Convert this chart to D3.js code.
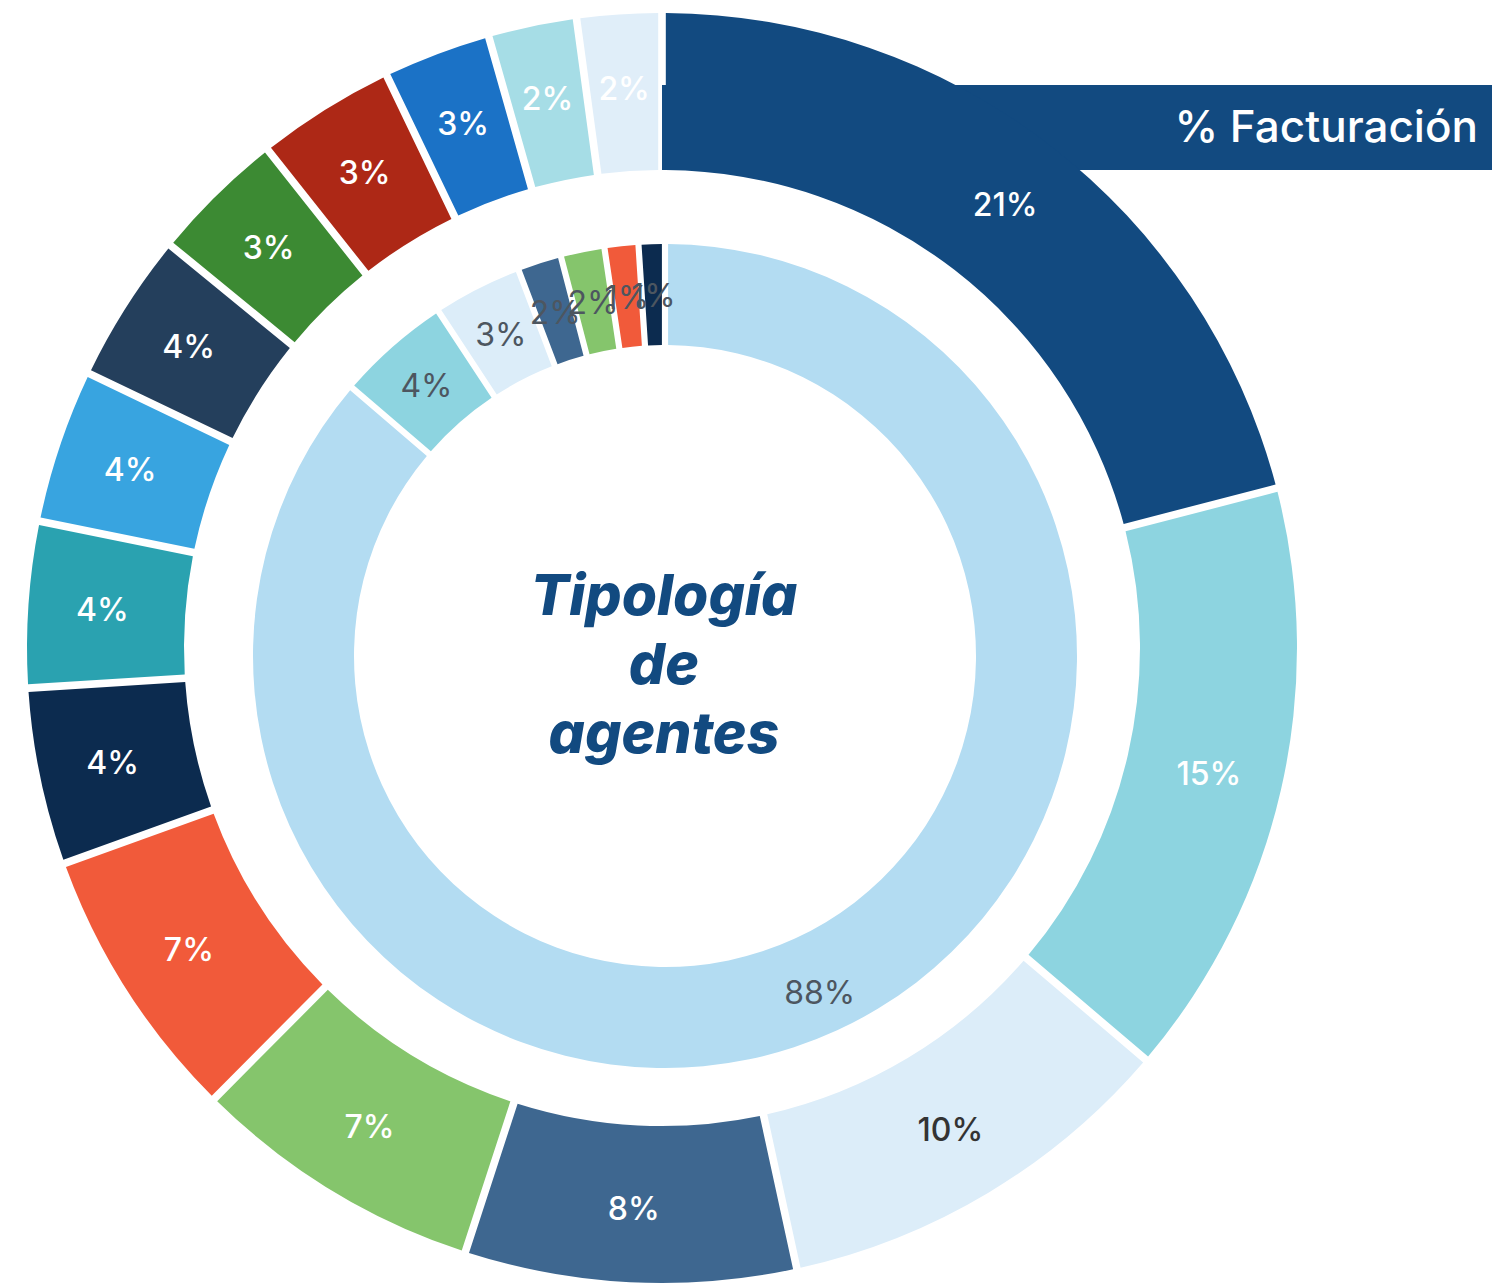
<!DOCTYPE html>
<html>
<head>
<meta charset="utf-8">
<script src="https://cdn.jsdelivr.net/npm/d3@7"></script>
<style>
  body { margin: 0; background: #fff; }
  svg { display: block; font-family: Inter, "Noto Sans", sans-serif; }
</style>
</head>
<body>
<svg width="1492" height="1284"></svg>
<script>
// outer ring: % facturación, clockwise from 12 o'clock
var outerValues = [21.2, 15.4, 10.4, 8.4, 7.4, 7.0, 4.4, 4.1, 3.8, 3.7, 3.3, 3.4, 2.6, 2.1, 2.0];
var outerColors = ['#124a80', '#8dd4e0', '#dcedf9', '#3e6790', '#85c56c', '#f15a3a', '#0c2b4f',
                   '#2aa2b0', '#38a4e0', '#243f5c', '#3c8a33', '#ad2816', '#1b72c6', '#a6dde6', '#e0eef9'];
var outerDarkText = [2]; // only the 10% slice uses dark text

// inner ring: tipología de agentes
var innerValues = [87.5, 4.3, 3.3, 1.5, 1.5, 1.1, 0.8];
var innerColors = ['#b3dcf2', '#8dd4e0', '#dcedf9', '#3e6790', '#85c56c', '#f15a3a', '#0c2b4f'];

var centerTitle = ['Tipología', 'de', 'agentes'];
var boxTitle = '% Facturación';

var cx = 662, cy = 648;      // outer ring centre
var icx = 665, icy = 656;    // inner ring sits a little lower
var svg = d3.select('svg');

// title band behind the big slice
svg.append('rect')
  .attr('x', cx).attr('y', 85)
  .attr('width', 1492 - cx).attr('height', 85)
  .attr('fill', '#124a80');

svg.append('text')
  .attr('x', 1478).attr('y', 142)
  .attr('text-anchor', 'end')
  .attr('fill', '#fff')
  .style('font-size', '44px')
  .style('font-weight', 500)
  .text(boxTitle);

function pct(v) { return Math.round(v) + '%'; }

// outer ring
var g = svg.append('g').attr('transform', 'translate(' + cx + ',' + cy + ')');
var outerPie = d3.pie().sort(null).value(function(d) { return d; }).padAngle(0.012);
var outerArc = d3.arc().innerRadius(478).outerRadius(635).padRadius(635);
var outerLabelArc = d3.arc().innerRadius(482).outerRadius(640);

var oArcs = outerPie(outerValues);
g.selectAll('path.outer')
  .data(oArcs)
  .enter()
  .append('path')
  .attr('class', 'outer')
  .attr('d', outerArc)
  .attr('fill', function(d, i) { return outerColors[i]; });

g.selectAll('text.outer')
  .data(oArcs)
  .enter()
  .append('text')
  .attr('class', 'outer')
  .attr('transform', function(d) { return 'translate(' + outerLabelArc.centroid(d) + ')'; })
  .attr('text-anchor', 'middle')
  .attr('dominant-baseline', 'central')
  .attr('fill', function(d, i) { return outerDarkText.indexOf(i) >= 0 ? '#333' : '#fff'; })
  .style('font-size', '32px')
  .style('font-weight', 500)
  .text(function(d) { return pct(d.data); });

// inner ring
var gi = svg.append('g').attr('transform', 'translate(' + icx + ',' + icy + ')');
var innerPie = d3.pie().sort(null).value(function(d) { return d; }).padAngle(0.015);
var innerArc = d3.arc().innerRadius(311).outerRadius(412).padRadius(412);
var innerLabelArc = d3.arc().innerRadius(311).outerRadius(411);

var iArcs = innerPie(innerValues);
gi.selectAll('path.inner')
  .data(iArcs)
  .enter()
  .append('path')
  .attr('class', 'inner')
  .attr('d', innerArc)
  .attr('fill', function(d, i) { return innerColors[i]; });

gi.selectAll('text.inner')
  .data(iArcs)
  .enter()
  .append('text')
  .attr('class', 'inner')
  .attr('transform', function(d, i) {
    var c = innerLabelArc.centroid(d);
    if (i === 0) { c = [c[0] * 1.025, c[1] * 1.025]; }
    return 'translate(' + c + ')';
  })
  .attr('text-anchor', 'middle')
  .attr('dominant-baseline', 'central')
  .attr('fill', '#4d5660')
  .style('font-size', '32px')
  .style('font-weight', 400)
  .text(function(d) { return pct(d.data); });

// centre title
svg.selectAll('text.center')
  .data(centerTitle)
  .enter()
  .append('text')
  .attr('class', 'center')
  .attr('x', 664)
  .attr('y', function(d, i) { return 615 + i * 69; })
  .attr('text-anchor', 'middle')
  .attr('fill', '#124a80')
  .style('font-size', '57px')
  .style('font-weight', 800)
  .style('font-style', 'italic')
  .text(function(d) { return d; });
</script>
</body>
</html>
